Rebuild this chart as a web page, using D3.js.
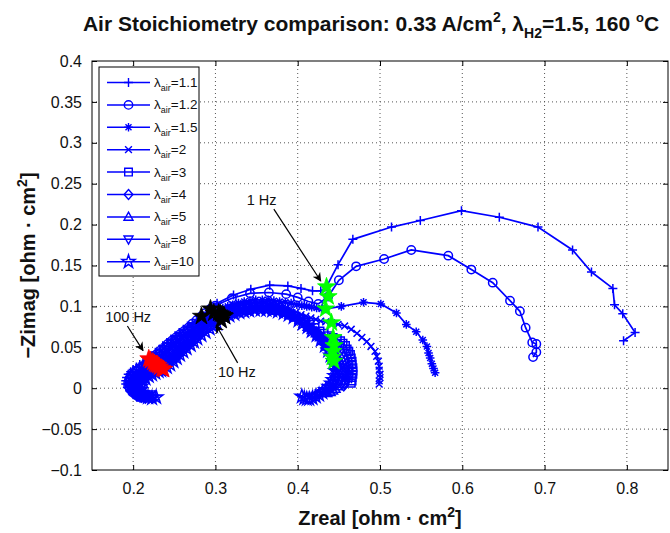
<!DOCTYPE html>
<html>
<head>
<meta charset="utf-8">
<script src="https://cdn.jsdelivr.net/npm/d3@7"></script>
<style>
  body { margin: 0; background: #fff; }
  svg { display: block; font-family: "Liberation Sans", Arial, Helvetica, sans-serif; }
  .grid line { stroke: #555; stroke-dasharray: 1,3; }
</style>
</head>
<body>
<svg id="chart" width="670" height="533"></svg>
<script>
// Nyquist points [Zreal, -Zimag], high frequency first
var l11 = [[0.212,-0.006],[0.208,-0.008],[0.204,-0.008],[0.200,-0.006],[0.196,-0.003],[0.193,0.001],[0.191,0.005],[0.191,0.009],[0.192,0.013],[0.194,0.017],[0.197,0.020],[0.200,0.023],[0.204,0.026],[0.208,0.029],[0.212,0.031],[0.216,0.034],[0.219,0.036],
  [0.223,0.040],[0.227,0.044],[0.232,0.048],[0.236,0.052],[0.241,0.056],[0.246,0.060],[0.251,0.064],[0.256,0.068],[0.261,0.072],[0.266,0.076],[0.272,0.080],[0.277,0.084],[0.283,0.088],[0.289,0.093],[0.295,0.099],[0.302,0.104],
  [0.322,0.114],[0.343,0.121],[0.366,0.126],[0.388,0.125],[0.404,0.122],[0.418,0.119],[0.428,0.119],[0.435,0.124],
  [0.449,0.151],[0.467,0.182],[0.514,0.197],[0.549,0.205],[0.599,0.217],[0.645,0.209],[0.692,0.197],[0.734,0.169],[0.757,0.142],[0.783,0.122],[0.785,0.102],[0.795,0.091],[0.810,0.068],[0.796,0.058]];
var l12 = [[0.216,-0.008],[0.212,-0.010],[0.207,-0.010],[0.203,-0.008],[0.199,-0.005],[0.196,-0.001],[0.194,0.003],[0.194,0.007],[0.195,0.011],[0.197,0.015],[0.200,0.018],[0.203,0.021],[0.207,0.024],[0.211,0.027],[0.215,0.029],[0.218,0.032],[0.221,0.034],
  [0.225,0.038],[0.229,0.042],[0.233,0.046],[0.238,0.050],[0.242,0.054],[0.247,0.058],[0.252,0.062],[0.257,0.066],[0.262,0.070],[0.267,0.074],[0.272,0.079],[0.277,0.083],[0.283,0.088],[0.288,0.092],[0.294,0.097],[0.300,0.101],
  [0.320,0.110],[0.342,0.116],[0.365,0.117],[0.386,0.115],[0.400,0.111],[0.413,0.106],[0.425,0.103],[0.437,0.112],
  [0.450,0.132],[0.471,0.149],[0.505,0.158],[0.538,0.169],[0.583,0.162],[0.611,0.145],[0.637,0.129],[0.658,0.107],[0.670,0.094],[0.677,0.074],[0.685,0.056],[0.690,0.054],[0.690,0.044],[0.686,0.038]];
var l15 = [[0.219,-0.007],[0.215,-0.010],[0.210,-0.011],[0.205,-0.010],[0.201,-0.007],[0.198,-0.003],[0.196,0.001],[0.196,0.005],[0.197,0.009],[0.199,0.013],[0.202,0.016],[0.206,0.019],[0.210,0.022],[0.214,0.025],[0.217,0.027],[0.221,0.030],[0.224,0.032],
  [0.228,0.035],[0.232,0.039],[0.236,0.043],[0.240,0.047],[0.245,0.051],[0.249,0.055],[0.254,0.059],[0.259,0.063],[0.263,0.066],[0.268,0.070],[0.273,0.074],[0.278,0.078],[0.283,0.082],[0.288,0.086],[0.293,0.089],[0.298,0.092],[0.303,0.095],
  [0.309,0.098],[0.315,0.100],[0.321,0.102],[0.328,0.104],[0.335,0.106],[0.342,0.107],[0.349,0.108],[0.357,0.108],[0.364,0.108],[0.371,0.107],[0.378,0.106],[0.385,0.105],[0.392,0.104],[0.399,0.102],[0.405,0.101],[0.411,0.100],[0.417,0.099],[0.423,0.098],[0.429,0.097],[0.434,0.097],
  [0.453,0.100],[0.480,0.105],[0.501,0.103],[0.520,0.092],[0.532,0.078],[0.544,0.069],[0.552,0.059],[0.557,0.051],[0.559,0.043],[0.561,0.037],[0.563,0.030],[0.565,0.024],[0.567,0.019]];
var l2 = [[0.221,-0.009],[0.217,-0.011],[0.212,-0.012],[0.207,-0.011],[0.203,-0.008],[0.200,-0.004],[0.198,0.000],[0.198,0.004],[0.199,0.008],[0.201,0.012],[0.204,0.015],[0.208,0.018],[0.212,0.021],[0.216,0.024],[0.219,0.026],[0.223,0.028],[0.226,0.030],
  [0.230,0.033],[0.234,0.037],[0.238,0.041],[0.243,0.045],[0.247,0.049],[0.251,0.053],[0.255,0.057],[0.260,0.061],[0.264,0.065],[0.269,0.069],[0.274,0.073],[0.279,0.077],[0.284,0.080],[0.289,0.084],[0.294,0.087],[0.299,0.090],[0.304,0.092],
  [0.310,0.095],[0.316,0.097],[0.322,0.099],[0.329,0.101],[0.336,0.102],[0.343,0.103],[0.350,0.103],[0.357,0.103],[0.364,0.103],[0.371,0.102],[0.378,0.100],[0.385,0.098],[0.391,0.096],[0.398,0.093],[0.404,0.090],[0.410,0.088],[0.416,0.086],[0.422,0.084],[0.428,0.082],[0.434,0.081],[0.441,0.080],
  [0.449,0.078],[0.457,0.076],[0.465,0.072],[0.472,0.067],[0.478,0.062],[0.484,0.057],[0.489,0.051],[0.494,0.045],[0.496,0.039],[0.498,0.033],[0.499,0.027],[0.499,0.022],[0.500,0.017],[0.500,0.013],[0.499,0.009],[0.499,0.005]];
var l3 = [[0.223,-0.008],[0.219,-0.011],[0.214,-0.012],[0.209,-0.011],[0.205,-0.008],[0.202,-0.004],[0.200,0.000],[0.200,0.004],[0.201,0.008],[0.203,0.011],[0.206,0.014],[0.210,0.017],[0.214,0.020],[0.218,0.023],[0.221,0.025],[0.225,0.027],[0.228,0.029],
  [0.232,0.032],[0.236,0.035],[0.240,0.039],[0.245,0.043],[0.249,0.047],[0.253,0.051],[0.258,0.055],[0.262,0.059],[0.266,0.063],[0.271,0.067],[0.275,0.071],[0.280,0.075],[0.285,0.079],[0.290,0.082],[0.295,0.085],[0.300,0.088],[0.306,0.091],
  [0.312,0.093],[0.318,0.095],[0.324,0.097],[0.331,0.099],[0.338,0.100],[0.345,0.100],[0.352,0.100],[0.359,0.100],[0.366,0.099],[0.373,0.098],[0.380,0.096],[0.386,0.094],[0.392,0.091],[0.398,0.088],[0.404,0.085],[0.410,0.081],[0.415,0.078],[0.421,0.074],[0.427,0.070],[0.432,0.067],[0.437,0.064],[0.443,0.062],
  [0.448,0.060],[0.452,0.058],[0.455,0.055],[0.458,0.052],[0.460,0.048],[0.462,0.045],[0.464,0.041],[0.465,0.037],[0.466,0.033],[0.466,0.029],[0.467,0.025],[0.467,0.021],[0.467,0.017],[0.466,0.013],[0.466,0.009],[0.465,0.006]];
var l4 = [[0.220,-0.011],[0.215,-0.012],[0.210,-0.011],[0.206,-0.009],[0.203,-0.006],[0.201,-0.002],[0.201,0.002],[0.202,0.006],[0.204,0.010],[0.207,0.013],[0.211,0.016],[0.215,0.019],[0.219,0.021],[0.223,0.024],[0.227,0.026],[0.230,0.028],
  [0.234,0.031],[0.238,0.034],[0.242,0.038],[0.247,0.042],[0.251,0.046],[0.255,0.050],[0.260,0.054],[0.264,0.058],[0.268,0.062],[0.273,0.066],[0.277,0.069],[0.282,0.073],[0.287,0.077],[0.292,0.081],[0.297,0.084],[0.303,0.087],[0.308,0.090],
  [0.314,0.092],[0.320,0.094],[0.326,0.096],[0.333,0.097],[0.340,0.098],[0.347,0.099],[0.354,0.099],[0.361,0.099],[0.368,0.098],[0.375,0.096],[0.382,0.094],[0.388,0.091],[0.394,0.088],[0.400,0.085],[0.406,0.081],[0.411,0.077],[0.416,0.073],[0.421,0.069],[0.426,0.065],[0.431,0.061],[0.436,0.058],[0.440,0.055],[0.444,0.052],
  [0.448,0.049],[0.451,0.046],[0.454,0.042],[0.456,0.038],[0.458,0.034],[0.459,0.030],[0.460,0.026],[0.461,0.022],[0.461,0.018],[0.460,0.014],[0.459,0.011],[0.458,0.008],[0.457,0.005],[0.456,0.003]];
var l5 = [[0.226,-0.010],[0.222,-0.012],[0.217,-0.012],[0.212,-0.011],[0.208,-0.008],[0.205,-0.005],[0.203,-0.001],[0.203,0.003],[0.204,0.007],[0.206,0.010],[0.209,0.013],[0.213,0.016],[0.217,0.019],[0.221,0.021],[0.225,0.023],[0.229,0.025],[0.232,0.026],
  [0.236,0.029],[0.240,0.032],[0.245,0.036],[0.249,0.040],[0.253,0.044],[0.257,0.048],[0.262,0.052],[0.266,0.056],[0.270,0.060],[0.275,0.064],[0.280,0.068],[0.285,0.072],[0.290,0.076],[0.295,0.080],[0.300,0.083],[0.305,0.086],[0.310,0.089],
  [0.316,0.091],[0.322,0.093],[0.328,0.095],[0.335,0.096],[0.342,0.097],[0.349,0.098],[0.356,0.098],[0.363,0.097],[0.370,0.096],[0.377,0.095],[0.384,0.092],[0.390,0.090],[0.396,0.087],[0.402,0.083],[0.407,0.079],[0.412,0.075],[0.417,0.071],[0.422,0.067],[0.427,0.062],[0.431,0.058],[0.435,0.054],[0.439,0.050],[0.443,0.045],
  [0.446,0.041],[0.449,0.037],[0.451,0.033],[0.453,0.029],[0.454,0.025],[0.455,0.021],[0.455,0.017],[0.454,0.013],[0.453,0.009],[0.451,0.005],[0.449,0.002],[0.446,-0.001],[0.443,-0.003],[0.440,-0.005],[0.436,-0.006]];
var l8 = [[0.224,-0.012],[0.219,-0.012],[0.214,-0.010],[0.210,-0.007],[0.207,-0.004],[0.206,0.000],[0.206,0.004],[0.207,0.007],[0.210,0.010],[0.213,0.013],[0.217,0.015],[0.221,0.018],[0.225,0.020],[0.229,0.022],[0.232,0.023],[0.235,0.024],
  [0.239,0.027],[0.243,0.030],[0.247,0.034],[0.251,0.038],[0.255,0.042],[0.259,0.046],[0.264,0.050],[0.268,0.054],[0.272,0.058],[0.277,0.062],[0.281,0.066],[0.286,0.070],[0.291,0.074],[0.296,0.078],[0.301,0.082],[0.306,0.085],[0.311,0.088],
  [0.317,0.090],[0.323,0.092],[0.329,0.094],[0.336,0.095],[0.343,0.096],[0.350,0.097],[0.357,0.097],[0.364,0.097],[0.371,0.096],[0.378,0.094],[0.385,0.092],[0.391,0.089],[0.397,0.086],[0.402,0.083],[0.407,0.079],[0.412,0.074],[0.417,0.070],[0.422,0.066],[0.427,0.060],[0.431,0.055],[0.435,0.050],[0.438,0.044],[0.442,0.038],
  [0.444,0.033],[0.446,0.028],[0.447,0.023],[0.447,0.019],[0.446,0.014],[0.445,0.010],[0.443,0.006],[0.441,0.002],[0.438,-0.001],[0.434,-0.004],[0.430,-0.006],[0.426,-0.008],[0.422,-0.010],[0.418,-0.011],[0.413,-0.012]];
var l10 = [[0.228,-0.011],[0.223,-0.012],[0.218,-0.011],[0.214,-0.009],[0.211,-0.006],[0.209,-0.002],[0.209,0.002],[0.210,0.006],[0.212,0.009],[0.215,0.012],[0.219,0.015],[0.223,0.017],[0.227,0.019],[0.231,0.021],[0.234,0.022],[0.237,0.023],
  [0.241,0.026],[0.245,0.029],[0.249,0.033],[0.253,0.037],[0.257,0.041],[0.261,0.045],[0.265,0.049],[0.270,0.053],[0.274,0.057],[0.278,0.061],[0.283,0.065],[0.288,0.069],[0.293,0.073],[0.297,0.076],[0.302,0.079],[0.307,0.083],
  [0.312,0.087],[0.317,0.089],[0.323,0.091],[0.329,0.093],[0.335,0.094],[0.341,0.095],[0.348,0.096],[0.355,0.096],[0.362,0.096],[0.369,0.095],[0.376,0.094],[0.383,0.092],[0.389,0.090],[0.395,0.087],[0.401,0.083],[0.406,0.079],[0.412,0.075],[0.417,0.070],[0.423,0.065],[0.428,0.059],[0.433,0.052],[0.437,0.046],[0.440,0.040],[0.444,0.033],
  [0.446,0.027],[0.446,0.021],[0.445,0.015],[0.443,0.010],[0.441,0.006],[0.438,0.002],[0.434,-0.002],[0.430,-0.005],[0.426,-0.008],[0.422,-0.010],[0.418,-0.012],[0.414,-0.013],[0.411,-0.013],[0.408,-0.012],[0.405,-0.010]];

var stoich = ['1.1', '1.2', '1.5', '2', '3', '4', '5', '8', '10'];
var symbols = ['plus', 'circle', 'asterisk', 'cross', 'square', 'diamond', 'triup', 'tridown', 'star'];
var allSeries = [l11, l12, l15, l2, l3, l4, l5, l8, l10];

// highlighted frequencies, one point per series
var hz100 = [[0.219,0.036],[0.221,0.034],[0.224,0.032],[0.226,0.030],[0.228,0.029],[0.230,0.028],[0.232,0.026],[0.235,0.024],[0.237,0.023]];
var hz10 = [[0.283,0.088],[0.294,0.097],[0.298,0.092],[0.304,0.092],[0.306,0.091],[0.308,0.090],[0.310,0.089],[0.311,0.088],[0.307,0.083]];
var hz1 = [[0.435,0.124],[0.437,0.112],[0.434,0.097],[0.441,0.080],[0.443,0.062],[0.444,0.052],[0.443,0.045],[0.442,0.038],[0.444,0.033]];

var xTicks = [0.2, 0.3, 0.4, 0.5, 0.6, 0.7, 0.8];
var yTicks = [-0.1, -0.05, 0, 0.05, 0.1, 0.15, 0.2, 0.25, 0.3, 0.35, 0.4];

// annotations in data units: label position, arrow tail, arrow head
var notes = [
  { text: '1 Hz', at: [0.338, 0.224], from: [0.371, 0.219], to: [0.428, 0.131] },
  { text: '100 Hz', at: [0.166, 0.081], from: [0.193, 0.076], to: [0.212, 0.046] },
  { text: '10 Hz', at: [0.303, 0.014], from: [0.327, 0.031], to: [0.301, 0.077] }
];

var margin = { top: 61, right: 2, bottom: 63, left: 92 },
    width = 670 - margin.left - margin.right,
    height = 533 - margin.top - margin.bottom,
    blue = '#0000ff';

var svg = d3.select('#chart');
var g = svg.append('g').attr('transform', 'translate(' + margin.left + ',' + margin.top + ')');

var x = d3.scaleLinear().domain([0.15, 0.85]).range([0, width]);
var y = d3.scaleLinear().domain([-0.1, 0.4]).range([height, 0]);

function fmt(v) {
  var s = d3.format('~g')(+v.toFixed(2));
  return s.replace('-', '\u2212');
}

// grid
var grid = g.append('g').attr('class', 'grid');
grid.selectAll('line.gx').data(xTicks).enter().append('line')
  .attr('x1', x).attr('x2', x).attr('y1', 0).attr('y2', height);
grid.selectAll('line.gy').data(yTicks.slice(1, -1)).enter().append('line')
  .attr('x1', 0).attr('x2', width).attr('y1', y).attr('y2', y);

// axes with inward ticks on all four sides
g.append('g').attr('transform', 'translate(0,' + height + ')')
  .call(d3.axisBottom(x).tickValues(xTicks).tickSizeInner(-5).tickSizeOuter(0).tickPadding(13).tickFormat(fmt));
g.append('g')
  .call(d3.axisTop(x).tickValues(xTicks).tickSizeInner(-5).tickSizeOuter(0).tickFormat(''));
g.append('g')
  .call(d3.axisLeft(y).tickValues(yTicks).tickSizeInner(-5).tickSizeOuter(0).tickPadding(10).tickFormat(fmt));
g.append('g').attr('transform', 'translate(' + width + ',0)')
  .call(d3.axisRight(y).tickValues(yTicks).tickSizeInner(-5).tickSizeOuter(0).tickFormat(''));
g.selectAll('.domain').remove();
g.selectAll('.tick line').attr('stroke', '#000');
g.selectAll('.tick text').attr('font-size', 16).attr('fill', '#111').attr('font-family', '"Liberation Sans", Arial, sans-serif');
g.append('rect').attr('width', width).attr('height', height)
  .attr('fill', 'none').attr('stroke', '#000').attr('stroke-width', 1);

// marker shapes
function markerPath(kind) {
  switch (kind) {
    case 'plus': return 'M-4.5,0H4.5M0,-4.5V4.5';
    case 'circle': return d3.symbol(d3.symbolCircle, 55)();
    case 'asterisk': return 'M-4.3,0H4.3M0,-4.3V4.3M-3,-3L3,3M-3,3L3,-3';
    case 'cross': return 'M-3.4,-3.4L3.4,3.4M-3.4,3.4L3.4,-3.4';
    case 'square': return 'M-3.8,-3.8H3.8V3.8H-3.8Z';
    case 'diamond': return 'M0,-5L4.4,0L0,5L-4.4,0Z';
    case 'triup': return 'M0,-4.8L4.5,3.3H-4.5Z';
    case 'tridown': return 'M0,4.8L4.5,-3.3H-4.5Z';
    case 'star': return d3.symbol(d3.symbolStar, 55)();
  }
}

var line = d3.line().x(function (d) { return x(d[0]); }).y(function (d) { return y(d[1]); });

var plot = g.append('g');
allSeries.forEach(function (pts, i) {
  var s = plot.append('g');
  s.append('path').datum(pts).attr('d', line)
    .attr('fill', 'none').attr('stroke', blue).attr('stroke-width', 1.7);
  s.selectAll('path.m').data(pts).enter().append('path').attr('class', 'm')
    .attr('d', markerPath(symbols[i]))
    .attr('transform', function (d) { return 'translate(' + x(d[0]) + ',' + y(d[1]) + ')'; })
    .attr('fill', 'none').attr('stroke', blue).attr('stroke-width', 1.5);
});

// frequency highlights
var bigStar = d3.symbol(d3.symbolStar, 100)();
[[hz1, '#00ff00'], [hz10, '#000000'], [hz100, '#ff0000']].forEach(function (h) {
  plot.selectAll(null).data(h[0]).enter().append('path')
    .attr('d', bigStar)
    .attr('transform', function (d) { return 'translate(' + x(d[0]) + ',' + y(d[1]) + ')'; })
    .attr('fill', h[1]).attr('stroke', h[1]).attr('stroke-width', 0.8);
});

// annotations
svg.append('defs').append('marker').attr('id', 'head')
  .attr('viewBox', '0 0 10 10').attr('refX', 9).attr('refY', 5)
  .attr('markerWidth', 9).attr('markerHeight', 9).attr('markerUnits', 'userSpaceOnUse')
  .attr('orient', 'auto')
  .append('path').attr('d', 'M0,0L10,5L0,10L3,5Z').attr('fill', '#000');
var ann = g.append('g');
notes.forEach(function (n) {
  ann.append('text').attr('x', x(n.at[0])).attr('y', y(n.at[1]))
    .attr('font-size', 14.5).attr('fill', '#111').text(n.text);
  ann.append('line').attr('x1', x(n.from[0])).attr('y1', y(n.from[1]))
    .attr('x2', x(n.to[0])).attr('y2', y(n.to[1]))
    .attr('stroke', '#000').attr('stroke-width', 1.2).attr('marker-end', 'url(#head)');
});

// legend
var leg = g.append('g').attr('transform', 'translate(7,6)');
leg.append('rect').attr('width', 100).attr('height', 209)
  .attr('fill', '#fff').attr('stroke', '#000').attr('stroke-width', 1);
stoich.forEach(function (s, i) {
  var row = leg.append('g').attr('transform', 'translate(0,' + (15.5 + i * 22.4) + ')');
  row.append('line').attr('x1', 8).attr('x2', 51).attr('stroke', blue).attr('stroke-width', 1.5);
  row.append('path').attr('d', markerPath(symbols[i])).attr('transform', 'translate(29.5,0)')
    .attr('fill', 'none').attr('stroke', blue).attr('stroke-width', 1.4);
  var t = row.append('text').attr('x', 55).attr('y', 4.5).attr('font-size', 13.5).attr('fill', '#111');
  t.append('tspan').text('\u03bb');
  t.append('tspan').attr('font-size', 9).attr('dy', 4).text('air');
  t.append('tspan').attr('dy', -4).text('=' + s);
});

// title and axis labels
var title = svg.append('text').attr('x', 371).attr('y', 31)
  .attr('text-anchor', 'middle').attr('font-size', 21).attr('font-weight', 'bold').attr('fill', '#111');
title.append('tspan').text('Air Stoichiometry comparison: 0.33 A/cm');
title.append('tspan').attr('font-size', 14).attr('dy', -9).text('2');
title.append('tspan').attr('dy', 9).text(', \u03bb');
title.append('tspan').attr('font-size', 14).attr('dy', 7).text('H2');
title.append('tspan').attr('dy', -7).text('=1.5, 160 ');
title.append('tspan').attr('font-size', 13).attr('dy', -9).text('o');
title.append('tspan').attr('dy', 9).text('C');

var xl = svg.append('text').attr('x', margin.left + width / 2).attr('y', 525)
  .attr('text-anchor', 'middle').attr('font-size', 20).attr('font-weight', 'bold').attr('fill', '#111');
xl.append('tspan').text('Zreal [ohm \u00b7 cm');
xl.append('tspan').attr('font-size', 14).attr('dy', -8).text('2');
xl.append('tspan').attr('dy', 8).text(']');

var yl = svg.append('text').attr('transform', 'translate(35,' + (margin.top + height / 2) + ') rotate(-90)')
  .attr('text-anchor', 'middle').attr('font-size', 20).attr('font-weight', 'bold').attr('fill', '#111');
yl.append('tspan').text('\u2212Zimag [ohm \u00b7 cm');
yl.append('tspan').attr('font-size', 14).attr('dy', -8).text('2');
yl.append('tspan').attr('dy', 8).text(']');
</script>
</body>
</html>
